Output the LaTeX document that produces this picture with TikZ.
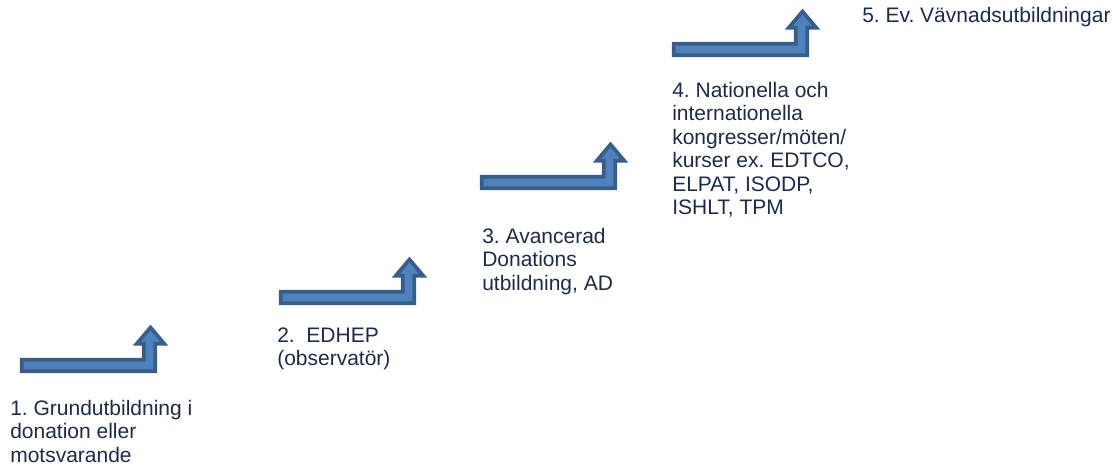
\documentclass[tikz,border=0pt]{standalone}
\usepackage{fontspec}
\setmainfont{Liberation Sans}
\frenchspacing
\definecolor{arrfill}{HTML}{4F81BD}
\definecolor{arrline}{HTML}{385D8A}
\definecolor{txt}{HTML}{1C2C48}
\tikzset{
  bentup/.pic={
    \draw[fill=arrfill,draw=arrline,line width=2.8pt,line join=miter]
      (1.75,-1.75) -- (135.25,-1.75) -- (135.25,-29.25) -- (144.25,-29.25)
      -- (130.5,-45.5) -- (116.75,-29.25) -- (123.75,-29.25) -- (123.75,-13.25)
      -- (1.75,-13.25) -- cycle;
  },
  lbl/.style={anchor=base west,inner sep=0pt,align=left,text=txt,
    font=\fontsize{15.75}{17.6}\selectfont}
}
\begin{document}
\begin{tikzpicture}[x=0.75pt,y=-0.75pt]
  \useasboundingbox (0,0) rectangle (1119,465);
  \pic at (20,373) {bentup};
  \pic at (279,305) {bentup};
  \pic at (480,190) {bentup};
  \pic at (672,57) {bentup};
  % base anchor sits on the last line
  \node[lbl] (a) at (10,462) {1. Grundutbildning i\\donation eller\\motsvarande};
  \node[lbl] (b) at (277,365.5) {2.\ \ EDHEP\\(observatör)};
  \node[lbl] (c) at (482,290) {3. Avancerad\\Donations\\utbildning, AD};
  \node[lbl] (d) at (672,214.5) {4. Nationella och\\internationella\\kongresser/möten/\\kurser ex. EDTCO,\\ELPAT, ISODP,\\ISHLT, TPM};
  \node[lbl] (e) at (862,22) {5. Ev. Vävnadsutbildningar};
\end{tikzpicture}
\end{document}
